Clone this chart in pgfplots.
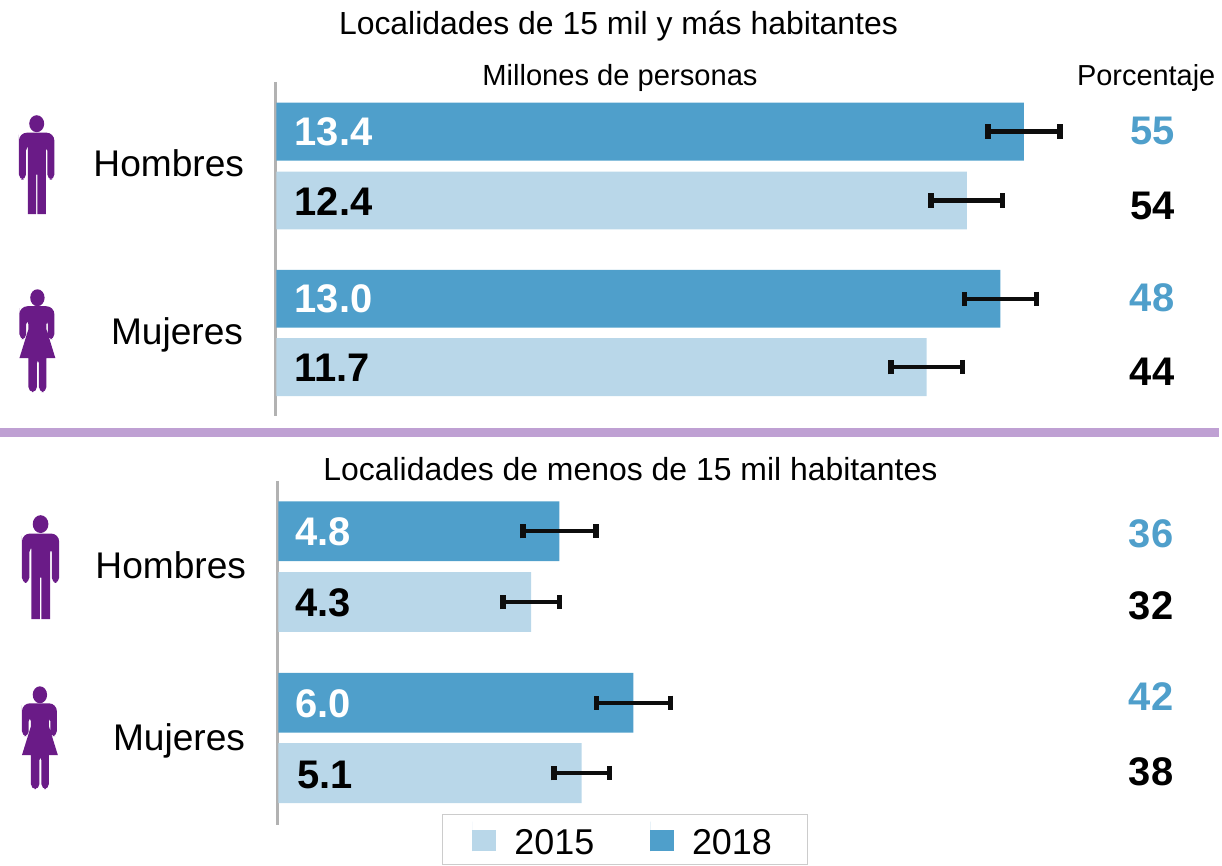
\documentclass[border=0pt]{standalone}
\usepackage{pgfplots}
\pgfplotsset{compat=1.18}
\usepackage{fontspec}
\setmainfont{Liberation Sans}
\definecolor{dblue}{HTML}{4F9FCB}
\definecolor{lblue}{HTML}{B9D7E9}
\definecolor{vio}{HTML}{6A1B87}
\definecolor{sep}{HTML}{BFA0D3}
\newcommand\man[3]{\begin{scope}[shift={(#1,#2)},scale=#3,fill=vio,draw=none]
 \fill (17.8,8) ellipse (7.5 and 8.5);
 \fill[rounded corners=2.5] (0,24) [rounded corners=4] -- (0,17) -- (35.5,17) [rounded corners=2.5] -- (35.5,64) -- (28.5,64) -- (28.5,30) -- (27,30) [sharp corners] -- (27,98.7) -- (18.5,98.7) -- (18.5,59) -- (17.2,59) -- (17.2,98.7) -- (9,98.7) -- (9,30) [rounded corners=2.5] -- (7,30) -- (7,64) -- (0,64) -- cycle;
\end{scope}}
\newcommand\woman[3]{\begin{scope}[shift={(#1,#2)},scale=#3,fill=vio,draw=none]
 \fill (18,8.5) ellipse (7.2 and 8.5);
 \fill[rounded corners=2.5] (0,24) [rounded corners=4] -- (0,17) -- (35,17) [rounded corners=2.5] -- (35,50) -- (28.5,50) -- (28.5,30) -- (27,30) [sharp corners] -- (27,40) -- (36,69) -- (27,69) [rounded corners=2.5] -- (27,103) -- (19.5,103) -- (19.5,69) -- (17.5,69) -- (17.5,103) -- (9,103) [sharp corners] -- (9,69) -- (0,69) -- (9,40) [rounded corners=2.5] -- (9,30) -- (6.8,30) -- (6.8,50) -- (0,50) -- cycle;
\end{scope}}
\begin{document}
\begin{tikzpicture}[x=0.5pt,y=-0.5pt]
\path (0,0) rectangle (1222,864);
\fill[sep] (0,429) rectangle (1222,438);

\begin{axis}[
  at={(138pt,-41pt)}, anchor=north west, scale only axis,
  width=463pt, height=167.5pt,
  xmin=-0.018, xmax=16.542, ymin=82, ymax=417, y dir=reverse,
  axis y line*=left, axis x line=none, ytick=\empty,
  y axis line style={draw=gray!60, line width=1.2pt, -},
  clip=false, xbar, bar width=29pt, bar shift=0pt,
  error bars/error bar style={line width=2.2pt, black!95},
  error bars/error mark options={rotate=90, mark size=3.6pt, line width=2.8pt, black!95},
]
\addplot[fill=dblue, draw=none, error bars/.cd, x dir=both, x explicit]
  coordinates {(13.4,132) +- (0.645,0) (12.98,299.5) +- (0.645,0)};
\addplot[fill=lblue, draw=none, error bars/.cd, x dir=both, x explicit]
  coordinates {(12.38,201) +- (0.64,0) (11.66,368) +- (0.64,0)};
\end{axis}

\begin{axis}[
  at={(139pt,-241pt)}, anchor=north west, scale only axis,
  width=462pt, height=172.5pt,
  xmin=-0.017, xmax=15.661, ymin=482, ymax=827, y dir=reverse,
  axis y line*=left, axis x line=none, ytick=\empty,
  y axis line style={draw=gray!60, line width=1.2pt, -},
  clip=false, xbar, bar width=30pt, bar shift=0pt,
  error bars/error bar style={line width=2.2pt, black!95},
  error bars/error mark options={rotate=90, mark size=3.6pt, line width=2.8pt, black!95},
  legend columns=2,
  legend image code/.code={\fill[#1] (0pt,-3.9pt) rectangle (12pt,7.1pt); \path (0pt,11.1pt) -- (0pt,-3.9pt);},
  legend style={at={(0.1786,0.032)}, anchor=north west, draw=gray!40, line width=0.6pt,
    inner xsep=15pt, inner ysep=3.5pt, font=\fontsize{18}{18}\selectfont,
    nodes={inner sep=0pt},
    /tikz/column 1/.style={column sep=9pt},
    /tikz/column 2/.style={column sep=28pt},
    /tikz/column 3/.style={column sep=9pt}},
]
\addplot[fill=lblue, draw=none, error bars/.cd, x dir=both, x explicit]
  coordinates {(4.3,603.5) +- (0.48,0) (5.16,775) +- (0.47,0)};
\addlegendentry{2015}
\addplot[fill=dblue, draw=none, error bars/.cd, x dir=both, x explicit]
  coordinates {(4.78,532.5) +- (0.62,0) (6.04,704.5) +- (0.63,0)};
\addlegendentry{2018\rule{3pt}{0pt}}
\end{axis}

% titles
\node[anchor=base, font=\fontsize{16}{16}\selectfont] at (620,35) {Localidades de 15 mil y más habitantes};
\node[anchor=base, font=\fontsize{14.6}{15}\selectfont] at (621.5,86) {Millones de personas};
\node[anchor=base, font=\fontsize{14.5}{15}\selectfont] at (1149,86) {Porcentaje};
\node[anchor=base, font=\fontsize{16}{16}\selectfont] at (632,482) {Localidades de menos de 15 mil habitantes};
% group names
\foreach \tx/\rx/\by in {Hombres/245/177, Mujeres/244/345, Hombres/247/580, Mujeres/246/752}
  \node[anchor=base east, inner sep=0pt, font=\fontsize{18.6}{18}\selectfont] at (\rx,\by) {\tx};
% values
\foreach \tx/\bx/\by/\c in {13.4/295/146/white, 12.4/295/216/black, 13.0/295/313/white, 11.7/295/382/black,
   4.8/296/547/white, 4.3/296/618/black, 6.0/296/719/white, 5.1/298/790/black}
  \node[anchor=base west, inner sep=0pt, text=\c, font=\fontsize{20}{20}\selectfont\bfseries] at (\bx,\by) {\tx};
% percent
\foreach \tx/\bx/\by/\c in {55/1155.5/145/dblue, 54/1155.5/220/black, 48/1155/312/dblue, 44/1155/386/black,
   36/1154/549/dblue, 32/1154/621/black, 42/1154/712/dblue, 38/1154/787/black}
  \node[anchor=base, inner sep=0pt, text=\c, font=\fontsize{20}{20}\selectfont\bfseries] at (\bx,\by) {\tx};
% icons
\man{19}{116}{1}
\woman{19.5}{290}{1}
\man{22}{517}{1.05}
\woman{22}{688}{1}
\end{tikzpicture}
\end{document}
